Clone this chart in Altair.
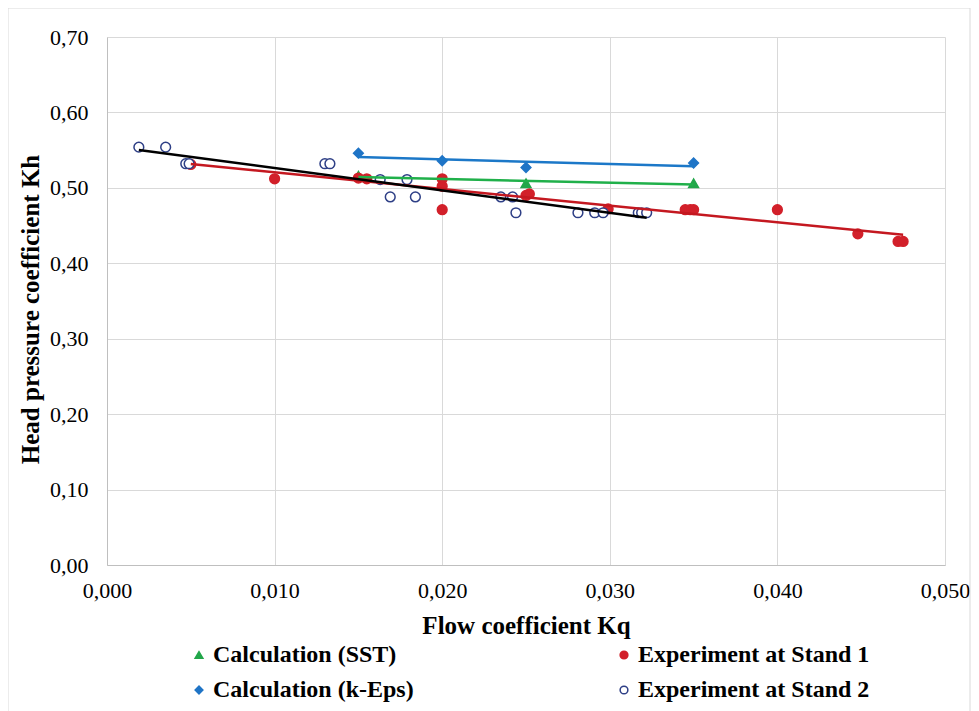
import altair as alt
import pandas as pd

# ---- data ----
sst_kq = [0.015, 0.025, 0.035]
sst_kh = [0.516, 0.506, 0.506]

keps_kq = [0.015, 0.020, 0.025, 0.035]
keps_kh = [0.546, 0.536, 0.527, 0.533]

st1_kq = [0.005, 0.010, 0.015, 0.0155, 0.020, 0.020, 0.020, 0.025, 0.0252,
          0.0299, 0.0345, 0.0348, 0.035, 0.040, 0.0448, 0.0472, 0.0475]
st1_kh = [0.531, 0.512, 0.513, 0.512, 0.512, 0.502, 0.471, 0.490, 0.492,
          0.472, 0.471, 0.471, 0.471, 0.471, 0.439, 0.429, 0.429]

st2_kq = [0.0019, 0.0035, 0.0047, 0.0049, 0.0130, 0.0133, 0.0163, 0.0169,
          0.0179, 0.0184, 0.0235, 0.0242, 0.0244, 0.0281, 0.0291, 0.0296,
          0.0317, 0.0319, 0.0322]
st2_kh = [0.554, 0.554, 0.532, 0.532, 0.532, 0.532, 0.511, 0.488,
          0.511, 0.488, 0.488, 0.488, 0.467, 0.467, 0.467, 0.467,
          0.467, 0.467, 0.467]

series_names = ["Calculation (SST)", "Calculation (k-Eps)",
                "Experiment at Stand 1", "Experiment at Stand 2"]
point_shapes = ["triangle-up", "diamond", "circle", "circle"]
point_fills = ["#22A64A", "#1F74C6", "#D2202A", "#FFFFFF"]
point_strokes = ["#22A64A", "#1F74C6", "#D2202A", "#2E3F86"]
line_colors = ["#20B04A", "#1C78C8", "#C41820", "#000000"]

rows = []
for name, xs, ys in [(series_names[0], sst_kq, sst_kh),
                     (series_names[1], keps_kq, keps_kh),
                     (series_names[2], st1_kq, st1_kh),
                     (series_names[3], st2_kq, st2_kh)]:
    for x, y in zip(xs, ys):
        rows.append({"kq": x, "kh": y, "series": name})
df = pd.DataFrame(rows)

serif = "Liberation Serif"
W, H = 838, 528
PAD_L, PAD_T = 99, 29

x_enc = alt.X("kq:Q", scale=alt.Scale(domain=[0, 0.05], nice=False),
              axis=alt.Axis(title="Flow coefficient Kq", values=[0, 0.01, 0.02, 0.03, 0.04, 0.05],
                            labelExpr="replace(format(datum.value, '.3f'), '.', ',')",
                            labelFlush=False, labelPadding=15,
                            titleBaseline="alphabetic", titleY=68, titleX=W / 2))
y_enc = alt.Y("kh:Q", scale=alt.Scale(domain=[0, 0.7], nice=False),
              axis=alt.Axis(title="Head pressure coefficient Kh",
                            values=[0, 0.1, 0.2, 0.3, 0.4, 0.5, 0.6, 0.7],
                            labelExpr="replace(format(datum.value, '.2f'), '.', ',')",
                            labelPadding=19, titleBaseline="middle", titleX=-77, titleY=272))

base = alt.Chart(df)

legend = alt.Legend(title=None, orient="none", legendX=80, legendY=606, columns=2,
                    columnPadding=198, rowPadding=11, symbolSize=60, labelOffset=2,
                    labelFont=serif, labelFontSize=24, labelFontWeight="bold",
                    labelColor="black", labelLimit=400, symbolStrokeWidth=1.5)

points = base.mark_point(filled=False, size=95, strokeWidth=1.5, opacity=1).encode(
    x=x_enc, y=y_enc,
    shape=alt.Shape("series:N", scale=alt.Scale(domain=series_names, range=point_shapes), legend=legend),
    fill=alt.Fill("series:N", scale=alt.Scale(domain=series_names, range=point_fills), legend=legend),
    stroke=alt.Stroke("series:N", scale=alt.Scale(domain=series_names, range=point_strokes), legend=legend),
)

lines = base.transform_regression("kq", "kh", groupby=["series"]).mark_line(strokeWidth=2.5).encode(
    x="kq:Q", y="kh:Q",
    color=alt.Color("series:N", scale=alt.Scale(domain=series_names, range=line_colors), legend=None),
)

border = alt.Chart(pd.DataFrame({"a": [0]})).mark_rect(
    fill=None, stroke="#D9D9D9", strokeWidth=1, clip=False
).encode(x=alt.value(-PAD_L), x2=alt.value(863), y=alt.value(-PAD_T), y2=alt.value(680))

chart = alt.layer(points, lines, border).properties(
    width=W, height=H,
    autosize=alt.AutoSizeParams(type="none"),
    padding={"left": PAD_L, "top": PAD_T, "right": 26, "bottom": 146},
).configure_view(stroke=None).configure_axis(
    grid=True, gridColor="#D9D9D9", gridWidth=1,
    domainColor="#BFBFBF", domainWidth=1, ticks=False,
    labelFont=serif, labelFontSize=22, labelColor="black",
    titleFont=serif, titleFontSize=25, titleFontWeight="bold", titleColor="black",
)

chart.save("out.html", embed_options={"renderer": "svg", "actions": False})
